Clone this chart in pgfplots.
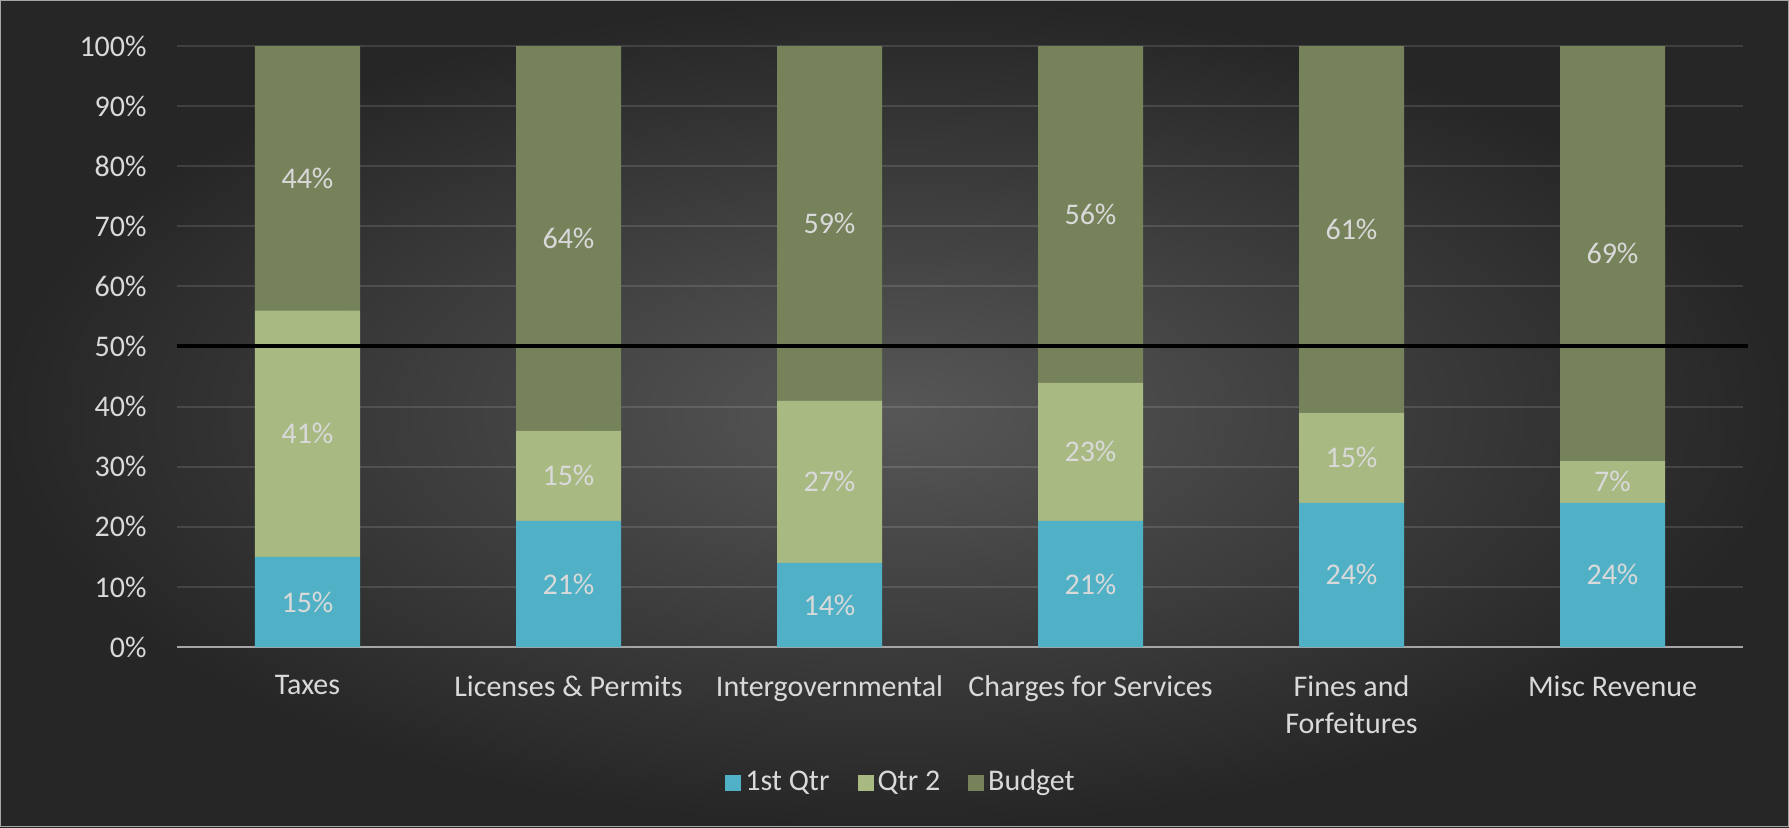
\documentclass[border=0pt]{standalone}
\usepackage{fontspec}
\setmainfont{Carlito}
\usepackage{pgfplots}
\pgfplotsset{compat=1.18}
\definecolor{bgin}{HTML}{575757}
\definecolor{bgout}{HTML}{262626}
\definecolor{qone}{HTML}{50B1C6}
\definecolor{qtwo}{HTML}{A8B982}
\definecolor{budg}{HTML}{76825A}
\definecolor{txt}{HTML}{D9D9D9}
\definecolor{axln}{HTML}{A6A6A6}
\begin{document}
\fontsize{15pt}{18.5pt}\selectfont
\begin{tikzpicture}[font=\fontsize{15pt}{18.5pt}\selectfont]
\shade[inner color=bgin, outer color=bgout, use as bounding box] (0,0) rectangle (894.5pt,413.5pt);
\draw[gray!70, line width=0.6pt] (0.3pt,0.3pt) rectangle (894.2pt,413.2pt);
\begin{axis}[
  at={(88.5pt,90pt)}, anchor=south west,
  width=783pt, height=300.5pt, scale only axis,
  ybar stacked, bar width=52.5pt,
  xmin=-0.5, xmax=5.5, ymin=0, ymax=100,
  xtick=data,
  xticklabels={Taxes, Licenses \& Permits, Intergovernmental, Charges for Services, {Fines and\\Forfeitures}, Misc Revenue},
  xticklabel style={align=center, text=txt, yshift=-9pt},
  ytick={0,10,...,100},
  yticklabel={\pgfmathprintnumber{\tick}\%},
  yticklabel style={text=txt, xshift=-10pt},
  /pgf/number format/assume math mode=true,
  major tick length=0pt,
  axis lines=left,
  y axis line style={draw=none},
  x axis line style={draw=axln, line width=1pt, -},
  ymajorgrids,
  grid style={white, opacity=0.12, line width=1pt},
  clip=false,
  nodes near coords={\pgfmathprintnumber{\pgfplotspointmeta}\%},
  nodes near coords style={anchor=center, text=txt},
  legend style={at={(0.463,-0.226)}, anchor=center, draw=none, fill=none, text=txt,
    legend columns=3, /tikz/every even column/.append style={column sep=12pt}},
  legend image code/.code={\draw[#1,draw=none] (0pt,-4pt) rectangle (8pt,4pt);},
]
\addplot[fill=qone, draw=none] coordinates {(0,15) (1,21) (2,14) (3,21) (4,24) (5,24)};
\addplot[fill=qtwo, draw=none] coordinates {(0,41) (1,15) (2,27) (3,23) (4,15) (5,7)};
\addplot[fill=budg, draw=none] coordinates {(0,44) (1,64) (2,59) (3,56) (4,61) (5,69)};
\legend{1st Qtr, Qtr 2, Budget}
\end{axis}
\begin{axis}[
  at={(88.5pt,90pt)}, anchor=south west,
  width=783pt, height=300.5pt, scale only axis,
  xmin=-0.5, xmax=5.5, ymin=0, ymax=100,
  hide axis, clip=false,
]
\addplot[black, line width=2pt] coordinates {(-0.5,50) (5.52,50)};
\end{axis}
\end{tikzpicture}
\end{document}
